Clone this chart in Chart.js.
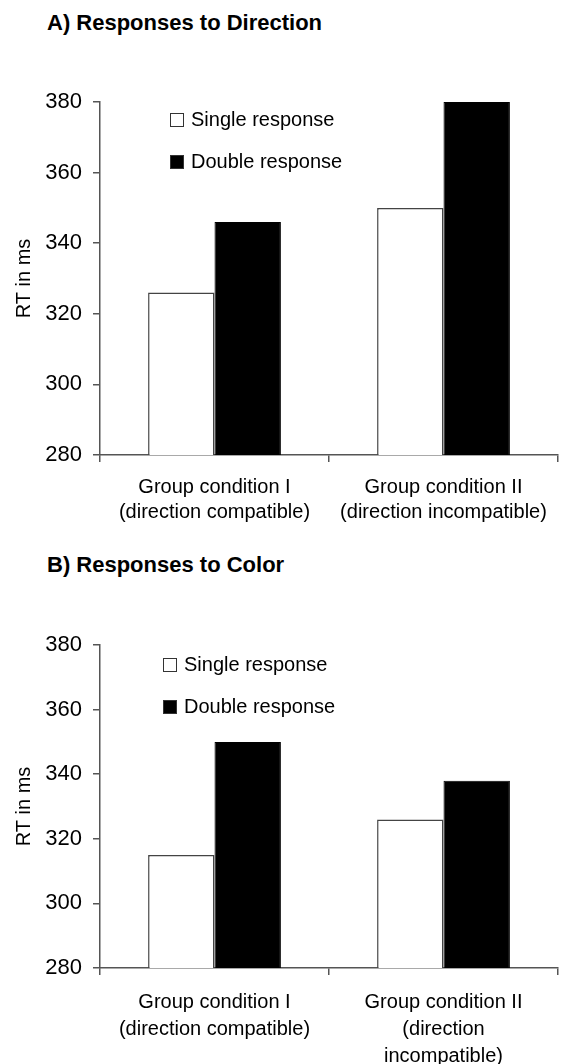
<!DOCTYPE html>
<html>
<head>
<meta charset="utf-8">
<script src="https://cdn.jsdelivr.net/npm/chart.js@4.4.1/dist/chart.umd.min.js"></script>
<style>
  body { margin: 0; background: #fff; width: 563px; height: 1064px; position: relative; overflow: hidden; }
  .panel { position: absolute; left: 0; width: 563px; }
  .heading { position: absolute; left: 47px; margin: 0; font: bold 22px "Liberation Sans", Arial, sans-serif; color: #000; }
</style>
</head>
<body>
<div class="heading" style="top: 10px;">A) Responses to Direction</div>
<div class="panel" style="top: 0; height: 540px;"><canvas id="chartA"></canvas></div>
<div class="heading" style="top: 552px;">B) Responses to Color</div>
<div class="panel" style="top: 540px; height: 524px;"><canvas id="chartB"></canvas></div>
<script>
const seriesNames = ['Single response', 'Double response'];
const categoriesA = [['Group condition I', '(direction compatible)'], ['Group condition II', '(direction incompatible)']];
const categoriesB = [['Group condition I', '(direction compatible)'], ['Group condition II', '(direction', 'incompatible)']];
const singleA = [326, 350];
const doubleA = [346, 380];
const singleB = [315, 326];
const doubleB = [350, 338];
const yMin = 280;
const yMax = 380;
const yStep = 20;

const FONT = '"Liberation Sans", Arial, sans-serif';
const AXIS = '#555';

// legend drawn inside the plot, two rows under each other
const boxLegend = {
    id: 'boxLegend',
    afterDatasetsDraw(chart, args, opts) {
        const { ctx, chartArea } = chart;
        ctx.save();
        ctx.font = '20px ' + FONT;
        ctx.textBaseline = 'middle';
        chart.data.datasets.forEach((ds, i) => {
            const x = chartArea.left + opts.x;
            const y = chartArea.top + opts.y + i * opts.rowGap;
            ctx.fillStyle = ds.backgroundColor;
            ctx.fillRect(x, y - 7, 14, 14);
            ctx.strokeStyle = '#333';
            ctx.lineWidth = 1;
            ctx.strokeRect(x + 0.5, y - 6.5, 13, 13);
            ctx.fillStyle = '#000';
            ctx.fillText(ds.label, x + 21, y);
        });
        ctx.restore();
    }
};

function makeChart(id, labels, single, double, cfg) {
    const ctx = document.getElementById(id).getContext('2d');
    return new Chart(ctx, {
        type: 'bar',
        data: {
            labels: labels,
            datasets: [
                {
                    label: seriesNames[0],
                    data: single,
                    backgroundColor: '#ffffff',
                    borderColor: '#444',
                    borderWidth: 1.5,
                    categoryPercentage: 0.58,
                    barPercentage: 1,
                },
                {
                    label: seriesNames[1],
                    data: double,
                    backgroundColor: '#000000',
                    borderColor: '#000000',
                    borderWidth: 1,
                    categoryPercentage: 0.58,
                    barPercentage: 1,
                },
            ],
        },
        options: {
            responsive: true,
            maintainAspectRatio: false,
            animation: false,
            layout: { padding: { top: cfg.top, right: 5, left: 0, bottom: 0 } },
            plugins: {
                legend: { display: false },
                tooltip: { enabled: false },
                boxLegend: cfg.legend,
            },
            scales: {
                x: {
                    offset: true,
                    grid: { offset: true, drawOnChartArea: false, tickLength: 7, color: AXIS, lineWidth: 1.5 },
                    border: { color: AXIS, width: 1.5 },
                    ticks: {
                        color: '#000',
                        padding: cfg.xPad,
                        maxRotation: 0,
                        autoSkip: false,
                        font: { family: FONT, size: 20, lineHeight: cfg.lineHeight },
                    },
                    afterFit: scale => { scale.height = cfg.xHeight; },
                },
                y: {
                    min: yMin,
                    max: yMax,
                    ticks: { stepSize: yStep, color: '#000', padding: 11, font: { family: FONT, size: 22 } },
                    grid: { drawOnChartArea: false, tickLength: 7, color: AXIS, lineWidth: 1.5 },
                    border: { color: AXIS, width: 1.5 },
                    title: {
                        display: true,
                        text: 'RT in ms',
                        color: '#000',
                        padding: { top: 12, bottom: 0 },
                        font: { family: FONT, size: 20 },
                    },
                    afterFit: scale => { scale.width = 100; },
                },
            },
        },
        plugins: [boxLegend],
    });
}

makeChart('chartA', categoriesA, singleA, doubleA, {
    top: 102, xHeight: 85, xPad: 13, lineHeight: 1.25,
    legend: { x: 70, y: 18, rowGap: 42 },
});
makeChart('chartB', categoriesB, singleB, doubleB, {
    top: 105, xHeight: 96, xPad: 14, lineHeight: 1.35,
    legend: { x: 63, y: 20, rowGap: 42 },
});
</script>
</body>
</html>
